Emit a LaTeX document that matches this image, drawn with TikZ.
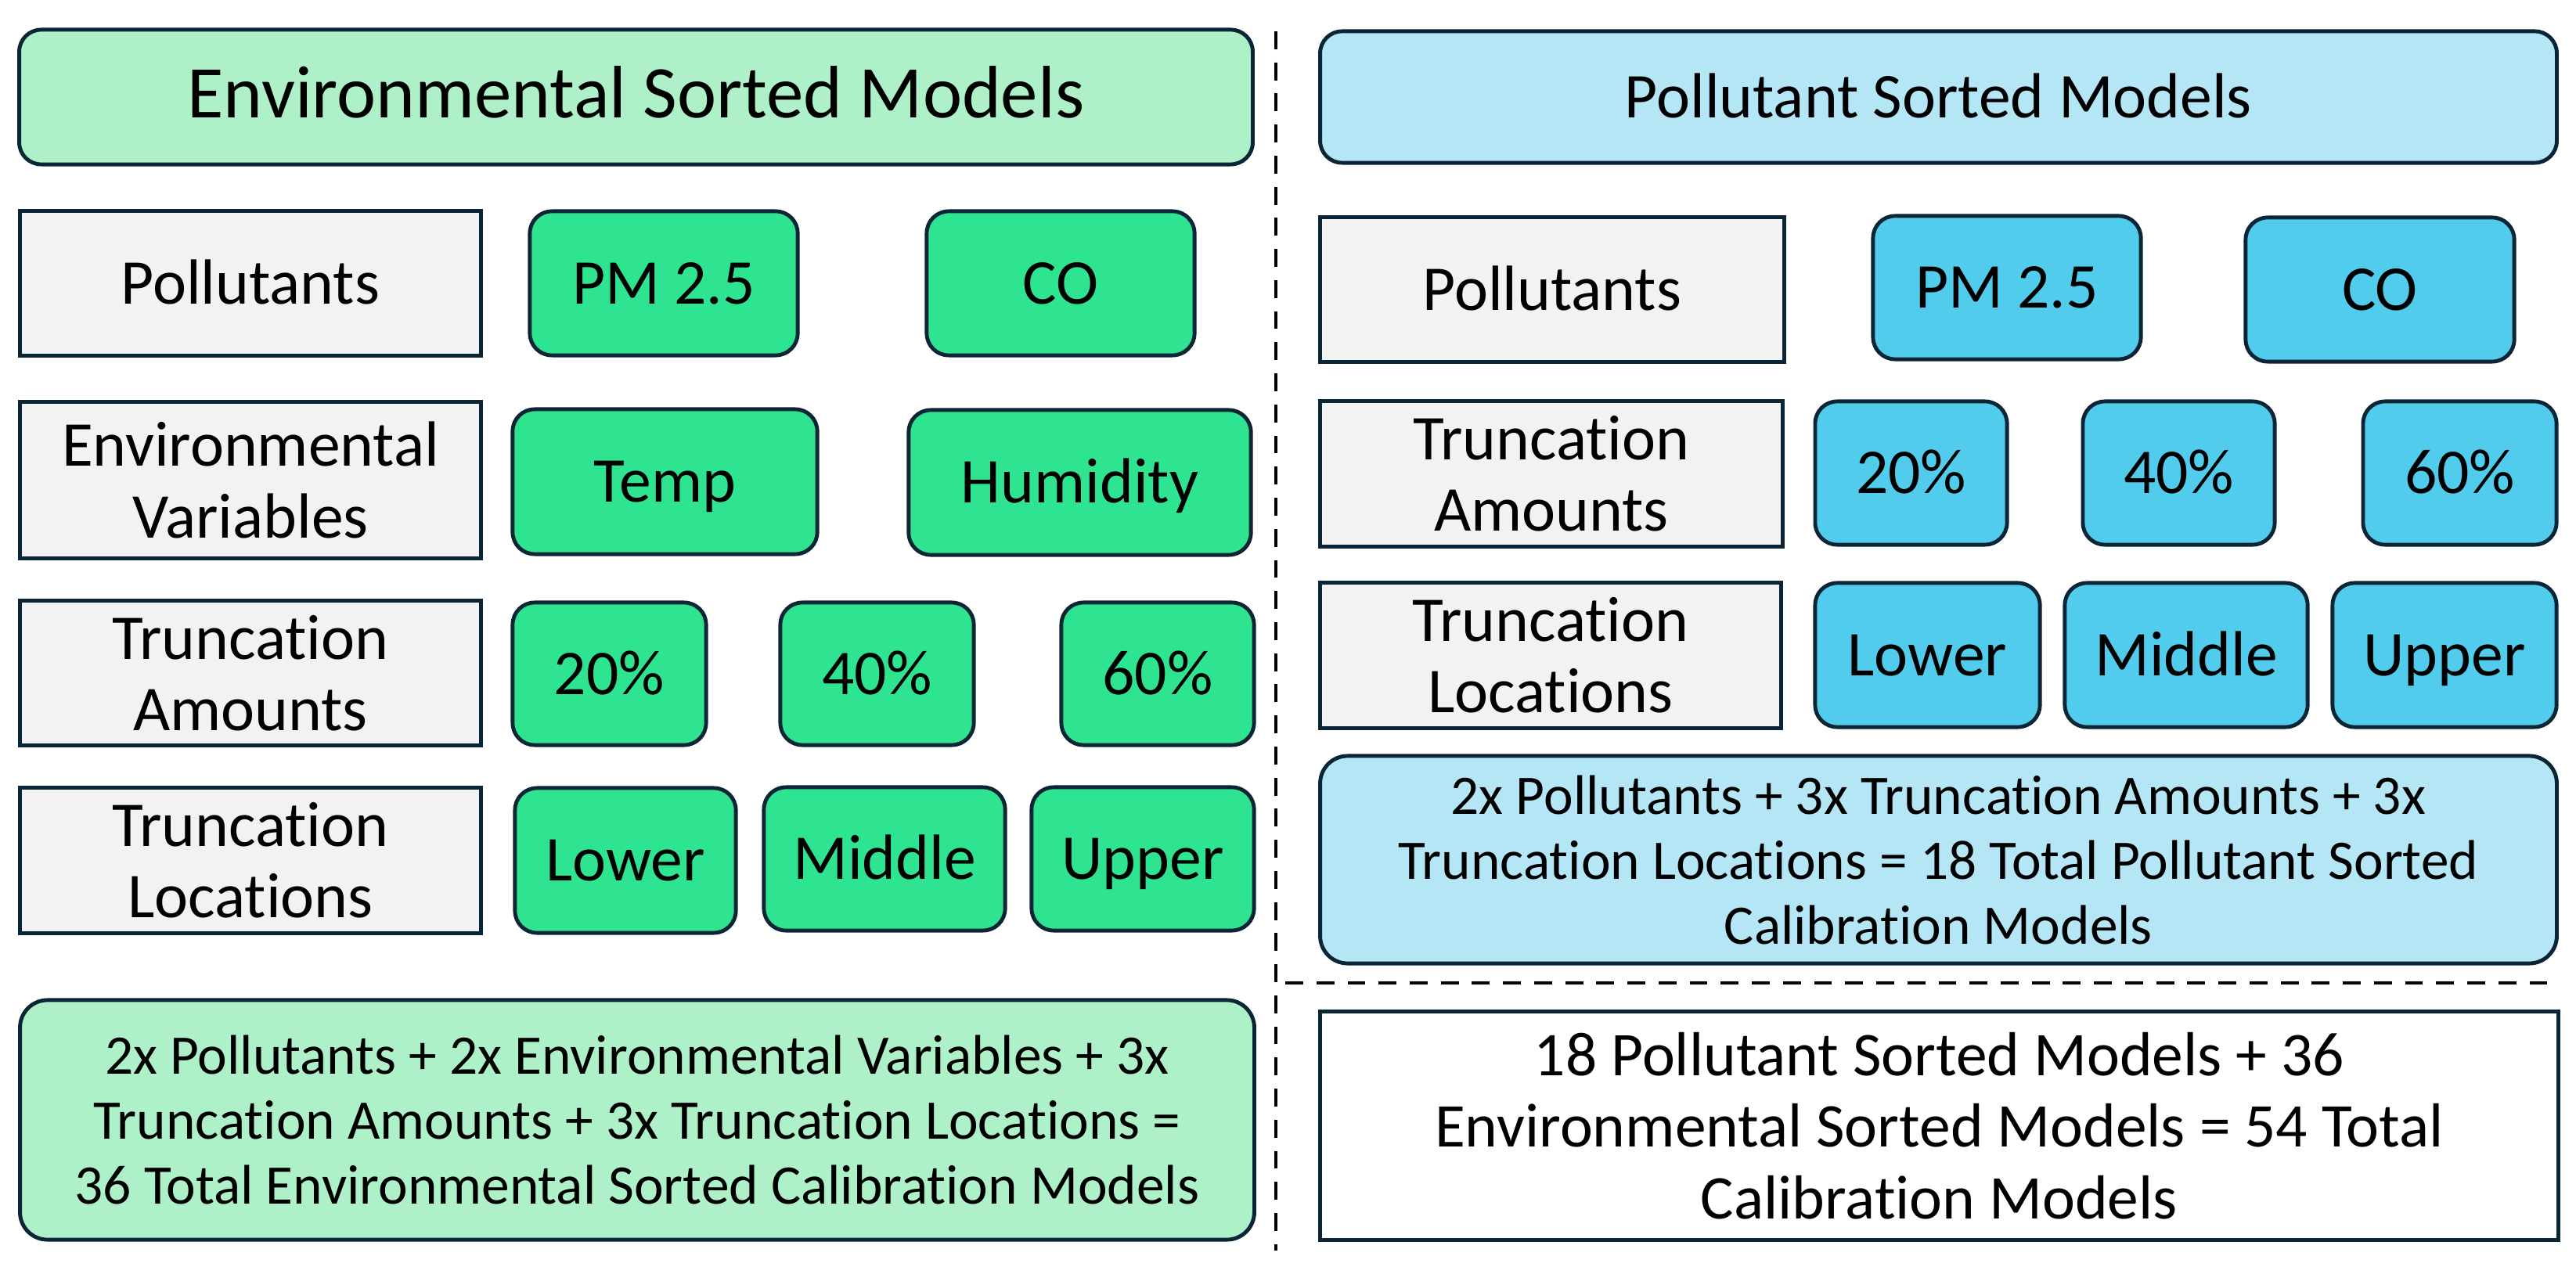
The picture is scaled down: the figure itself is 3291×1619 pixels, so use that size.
\documentclass[tikz,border=0pt]{standalone}
\usepackage{fontspec}
\setmainfont{Carlito}[Ligatures=NoCommon]
\definecolor{gdark}{RGB}{46,228,145}
\definecolor{glight}{RGB}{174,240,200}
\definecolor{bdark}{RGB}{82,204,236}
\definecolor{blight}{RGB}{180,230,245}
\definecolor{labgray}{RGB}{242,242,242}
\definecolor{bordc}{RGB}{10,37,53}
\begin{document}
\begin{tikzpicture}[x=0.01cm,y=-0.01cm,
  base/.style={draw=bordc, line width=1.4pt, align=center, inner sep=0pt,
    font=\fontsize{23.2}{26}\selectfont},
  one/.style={text height=20pt, text depth=5pt},
  lab/.style={base, fill=labgray},
  gbox/.style={base, one, fill=gdark, rounded corners=8pt},
  bbox/.style={base, one, fill=bdark, rounded corners=8pt},
  gbig/.style={base, fill=glight, rounded corners=8pt},
  bbig/.style={base, fill=blight, rounded corners=8pt},
  small/.style={font=\fontsize{20.3}{23.6}\selectfont},
  sep/.style={black, line width=1.4pt, dash pattern=on 6.5pt off 4.8pt}
]
\useasboundingbox[fill=white] (0,0) rectangle (3291,1619);

% ---------- left: environmental sorted ----------
\node[gbig, one, minimum width=15.75cm, minimum height=1.72cm, font=\fontsize{27}{32}\selectfont]
  (envtitle) at (812.5,124) {Environmental Sorted Models};

\node[lab, one, minimum width=5.88cm, minimum height=1.84cm] (lpol) at (320,362) {Pollutants};
\node[gbox, minimum width=3.42cm, minimum height=1.84cm] (lpm) at (848,362) {PM 2.5};
\node[gbox, minimum width=3.42cm, minimum height=1.84cm] (lco) at (1355,362) {CO};

\node[lab, minimum width=5.88cm, minimum height=1.99cm] (lenv) at (320,613.5) {Environmental\\Variables};
\node[gbox, minimum width=3.89cm, minimum height=1.85cm] (ltemp) at (849.5,615.5) {Temp};
\node[gbox, minimum width=4.37cm, minimum height=1.85cm] (lhum) at (1379.5,616.5) {Humidity};

\node[lab, minimum width=5.88cm, minimum height=1.84cm] (lamt) at (320,860) {Truncation\\Amounts};
\node[gbox, minimum width=2.47cm, minimum height=1.82cm] (l20) at (778.5,861) {20\%};
\node[gbox, minimum width=2.47cm, minimum height=1.82cm] (l40) at (1120.5,861) {40\%};
\node[gbox, minimum width=2.46cm, minimum height=1.82cm] (l60) at (1479,861) {60\%};

\node[lab, minimum width=5.88cm, minimum height=1.85cm] (lloc) at (320,1099.5) {Truncation\\Locations};
\node[gbox, minimum width=2.82cm, minimum height=1.85cm] (llow) at (799,1099.5) {Lower};
\node[gbox, minimum width=3.08cm, minimum height=1.83cm] (lmid) at (1130,1097.5) {Middle};
\node[gbox, minimum width=2.84cm, minimum height=1.83cm] (lup) at (1460,1097.5) {Upper};

\node[gbig, small, minimum width=15.76cm, minimum height=3.06cm, rounded corners=10pt]
  (envsum) at (814,1431)
  {2x Pollutants + 2x Environmental Variables + 3x\\
   Truncation Amounts + 3x Truncation Locations =\\
   36 Total Environmental Sorted Calibration Models};

% ---------- right: pollutant sorted ----------
\node[bbig, one, minimum width=15.79cm, minimum height=1.68cm] (poltitle) at (2476.5,124) {Pollutant Sorted Models};

\node[lab, one, minimum width=5.92cm, minimum height=1.84cm] (rpol) at (1983,370) {Pollutants};
\node[bbox, minimum width=3.42cm, minimum height=1.83cm] (rpm) at (2564,367.5) {PM 2.5};
\node[bbox, minimum width=3.43cm, minimum height=1.84cm] (rco) at (3040.5,370) {CO};

\node[lab, minimum width=5.90cm, minimum height=1.85cm] (ramt) at (1982,605.5) {Truncation\\Amounts};
\node[bbox, minimum width=2.45cm, minimum height=1.83cm] (r20) at (2441.5,604.5) {20\%};
\node[bbox, minimum width=2.45cm, minimum height=1.83cm] (r40) at (2783.5,604.5) {40\%};
\node[bbox, minimum width=2.47cm, minimum height=1.83cm] (r60) at (3142.5,604.5) {60\%};

\node[lab, minimum width=5.88cm, minimum height=1.85cm] (rloc) at (1981,837.5) {Truncation\\Locations};
\node[bbox, minimum width=2.87cm, minimum height=1.84cm] (rlow) at (2462.5,837) {Lower};
\node[bbox, minimum width=3.10cm, minimum height=1.84cm] (rmid) at (2793,837) {Middle};
\node[bbox, minimum width=2.86cm, minimum height=1.84cm] (rup) at (3123,837) {Upper};

\node[bbig, small, minimum width=15.79cm, minimum height=2.65cm, rounded corners=10pt]
  (polsum) at (2476.5,1098.5)
  {2x Pollutants + 3x Truncation Amounts + 3x\\
   Truncation Locations = 18 Total Pollutant Sorted\\
   Calibration Models};

\node[base, fill=white, minimum width=15.81cm, minimum height=2.91cm,
  font=\fontsize{22.6}{26}\selectfont] (total) at (2477.5,1438.5)
  {18 Pollutant Sorted Models + 36\\
   Environmental Sorted Models = 54 Total\\
   Calibration Models};

% ---------- separators ----------
\coordinate (vtop) at (1630,40);
\coordinate (vbot) at (1630,1598);
\coordinate (hleft) at (1642,1256);
\coordinate (hright) at (3268,1256);
\draw[sep] (vtop) -- (vbot);
\draw[sep] (hleft) -- (hright);
\end{tikzpicture}
\end{document}
